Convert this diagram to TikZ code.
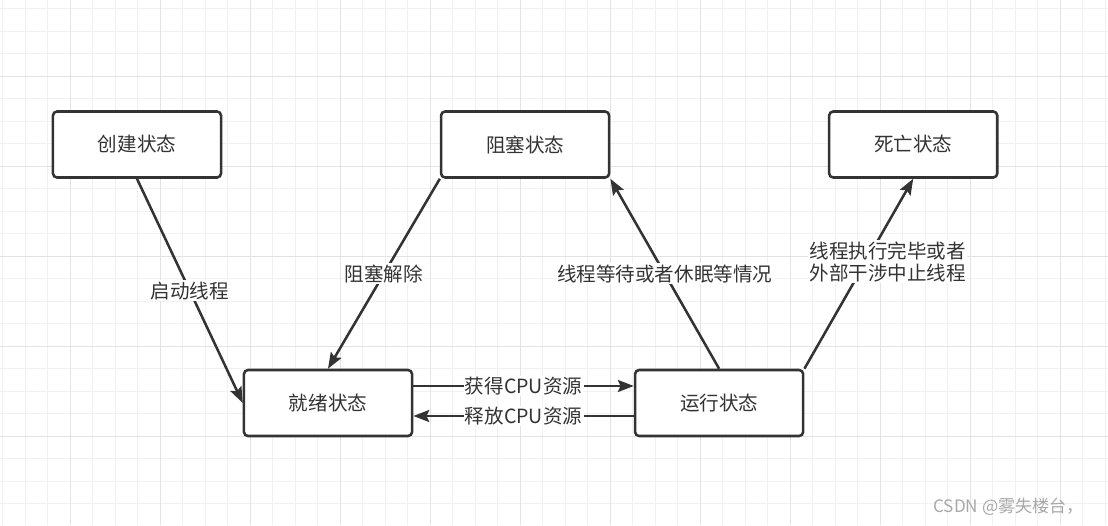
\documentclass[tikz,border=0pt]{standalone}
\usepackage{fontspec}
\setmainfont{Noto Sans CJK SC}
\usepackage{xcolor}
\definecolor{boxline}{HTML}{333333}
\definecolor{gridminor}{HTML}{F1F1F1}
\definecolor{gridmajor}{HTML}{E3E3E3}
\definecolor{markgray}{HTML}{A8A8A8}
\usepackage{tikz}
\usetikzlibrary{arrows.meta,positioning}

\begin{document}
\begin{tikzpicture}[x=0.025cm,y=-0.025cm,->,>={Stealth[length=0.4cm,width=0.3cm,inset=0.07cm]},
                    line width=1.8pt,color=boxline,node distance=9.7cm,
                    font=\fontsize{13.9pt}{15.6pt}\selectfont]
  \tikzstyle{thin grid}=[-,draw=gridminor,line width=0.7pt]
  \tikzstyle{thick grid}=[-,draw=gridmajor,line width=0.7pt]
  \tikzstyle{statebox}=[draw,fill=white,rounded corners=0.1cm,
                        minimum width=4.2cm,minimum height=1.65cm]
  \tikzstyle{tag}=[fill=white,inner sep=1pt]

  \useasboundingbox (0,0) rectangle (1108,525);
  \fill[white] (0,0) rectangle (1108,525);

  % background grid
  \foreach \gx in {2.5,25,...,1108} \draw[thin grid] (\gx,0) -- (\gx,525);
  \foreach \gy in {8.5,31,...,525} \draw[thin grid] (0,\gy) -- (1108,\gy);
  \foreach \gx in {70,160,...,1060} \draw[thick grid] (\gx,0) -- (\gx,525);
  \foreach \gy in {76,166,...,436} \draw[thick grid] (0,\gy) -- (1108,\gy);

  \node[statebox] (create) at (137,144.5) {创建状态};
  \node[statebox] (block) [right of=create] {阻塞状态};
  \node[statebox] (dead) [right of=block] {死亡状态};

  \node[statebox] (ready) at (328,403) {就绪状态};
  \node[statebox] (run) [right of=ready,node distance=9.775cm] {运行状态};

  \path (create.south) edge node[tag] {启动线程} (ready.west)
        (block.south west) edge node[tag] {阻塞解除} (ready.north)
        ([yshift=0.425cm]ready.east) edge node[tag] {获得CPU资源} ([yshift=0.425cm]run.west)
        ([yshift=-0.325cm]run.west) edge node[tag] {释放CPU资源} ([yshift=-0.325cm]ready.east)
        (run.north) edge node[tag] {线程等待或者休眠等情况} (block.south east)
        (run.north east) edge node[tag,align=center,xshift=0.725cm,yshift=0.3cm]
              {线程执行完毕或者\\外部干涉中止线程} (dead.south);

  \node[anchor=east,text=markgray,font=\fontsize{12.2pt}{14pt}\selectfont] (mark) at (1090,507) {CSDN @雾失楼台，};
\end{tikzpicture}
\end{document}
